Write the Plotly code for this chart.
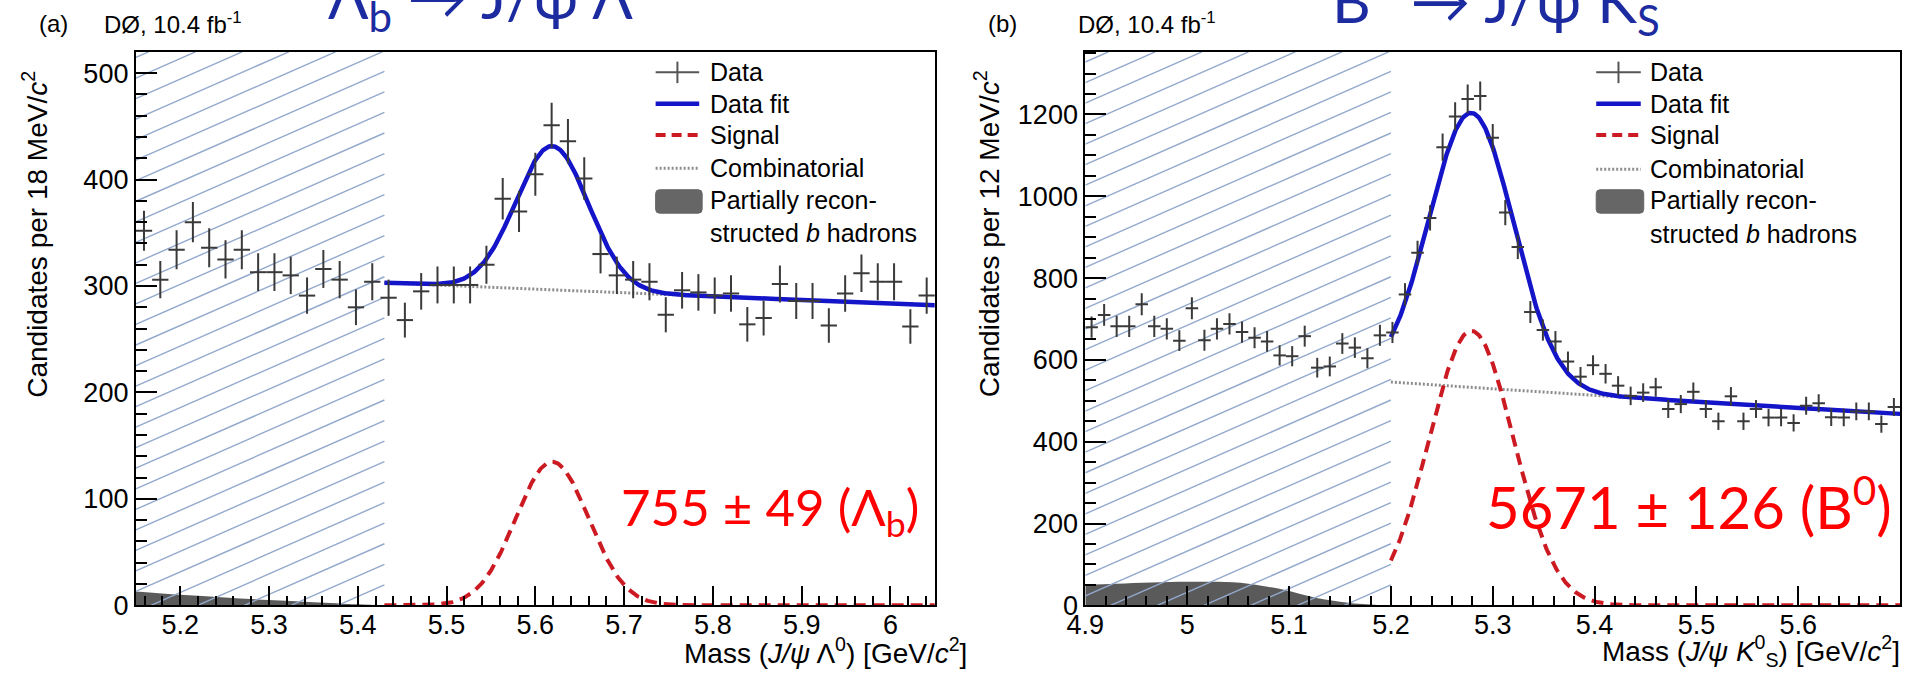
import numpy as np
import plotly.graph_objects as go

FIG_W, FIG_H = 1917, 681

# ---------------- panel (a): Lambda_b -> J/psi Lambda ----------------
mass_range_a = (5.15, 6.05)
counts_a = [352, 306, 334, 360, 336, 325, 334, 313, 313, 310,
            291, 316, 306, 280, 304, 289, 268, 295, 301, 301,
            301, 320, 382, 370, 405, 451, 436, 401, 330, 310,
            306, 304, 273, 296, 294, 291, 293, 264, 270, 302,
            286, 286, 263, 293, 312, 304, 304, 262, 291]
y_range_a = (0, 520)
fit_start_a = 5.43                 # lower edge of the fitted window
lb_yield, lb_yield_err = 755, 49
lb_mean, lb_sigma = 5.619, 0.041
comb_a_at_start, comb_a_decay = 303.0, 0.116
partial_a_x = [5.15, 5.20, 5.25, 5.30, 5.35, 5.40, 5.43]
partial_a_y = [13, 10, 7.5, 5, 3, 1, 0]
xtick_vals_a = [5.2, 5.3, 5.4, 5.5, 5.6, 5.7, 5.8, 5.9, 6.0]
xtick_text_a = ["5.2", "5.3", "5.4", "5.5", "5.6", "5.7", "5.8", "5.9", "6"]
ytick_vals_a = [0, 100, 200, 300, 400, 500]

# ---------------- panel (b): B0 -> J/psi K0S ----------------
mass_range_b = (4.9, 5.7)
counts_b = [680, 710, 682, 682, 736, 682, 676, 647, 726, 648,
            676, 688, 668, 654, 645, 611, 609, 658, 581, 584,
            640, 630, 604, 660, 667, 760, 862, 947, 1120, 1195,
            1238, 1245, 1143, 960, 876, 717, 673, 645, 596, 559,
            587, 566, 537, 512, 520, 533, 480, 492, 522, 480,
            450, 511, 450, 480, 459, 459, 446, 488, 494, 460,
            459, 474, 474, 443, 485]
y_range_b = (0, 1353)
fit_start_b = 5.2
b0_yield, b0_yield_err = 5671, 126
b0_mean, b0_sigma = 5.279, 0.0415
comb_b_at_start, comb_b_decay = 546.0, 0.308
partial_b_x = [4.90, 4.93, 4.965, 5.00, 5.03, 5.06, 5.095, 5.127, 5.16, 5.19, 5.20]
partial_b_y = [50, 53, 56, 57.5, 57.5, 53, 38, 18, 6, 1, 0]
xtick_vals_b = [4.9, 5.0, 5.1, 5.2, 5.3, 5.4, 5.5, 5.6, 5.7]
xtick_text_b = ["4.9", "5", "5.1", "5.2", "5.3", "5.4", "5.5", "5.6", "5.7"]
ytick_vals_b = [0, 200, 400, 600, 800, 1000, 1200]

# ---------------- frame geometry (pixels) ----------------
FRAME_TOP, FRAME_BOTTOM = 53, 619
FRAME_A = (118, 925)
FRAME_B = (1077, 1900)
Y_DOMAIN = [(FIG_H - FRAME_BOTTOM) / FIG_H, (FIG_H - FRAME_TOP) / FIG_H]

DATA_COLOR = "#3a3a3a"
FIT_COLOR = "#1414c8"
SIG_COLOR = "#cc1a22"
COMB_COLOR = "#8c8c8c"
PART_COLOR = "#5a5a5a"
HATCH_COLOR = "#93a9cc"
TITLE_BLUE = "#1d2ba0"
AX_FONT = "Liberation Sans"
SLIDE_FONT = "Lato"
TICK_SIZE = 27


def px(x):
    return x / FIG_W


def py(y):
    return 1 - y / FIG_H


def gauss(x, n, mean, sigma, width):
    return n * width / (sigma * np.sqrt(2 * np.pi)) * np.exp(-0.5 * ((x - mean) / sigma) ** 2)


def hatch(x0, x1, xr, yr, frame, angle_deg=24, spacing_px=21):
    """Diagonal hatch lines filling x0..x1 over the full y range, in data units."""
    ppx = (frame[1] - frame[0]) / (xr[1] - xr[0])
    ppy = (FRAME_BOTTOM - FRAME_TOP) / (yr[1] - yr[0])
    u1 = (x1 - x0) * ppx
    v1 = (yr[1] - yr[0]) * ppy
    t = np.tan(np.radians(angle_deg))
    xs, ys = [], []
    c = -u1 * t
    while c < v1:
        ua = max(0.0, -c / t)
        ub = min(u1, (v1 - c) / t)
        if ub > ua:
            for u in (ua, ub):
                xs.append(x0 + u / ppx)
                ys.append(yr[0] + (u * t + c) / ppy)
            xs.append(None)
            ys.append(None)
        c += spacing_px
    return xs, ys


def add_panel(fig, xref, yref, xr, yr, counts, frame, fit_start,
              n_sig, mean, sigma, comb0, decay, part_x, part_y):
    nb = len(counts)
    width = (xr[1] - xr[0]) / nb
    centers = xr[0] + width * (np.arange(nb) + 0.5)
    counts = np.asarray(counts, dtype=float)

    # partially reconstructed b hadrons
    fig.add_trace(go.Scatter(x=part_x, y=part_y, mode="lines", line=dict(color=PART_COLOR, width=0, shape="spline"),
                             fill="tozeroy", fillcolor=PART_COLOR, xaxis=xref, yaxis=yref, hoverinfo="skip"))
    # excluded (hatched) region
    hx, hy = hatch(xr[0], fit_start, xr, yr, frame)
    fig.add_trace(go.Scatter(x=hx, y=hy, mode="lines", line=dict(color=HATCH_COLOR, width=1.4),
                             xaxis=xref, yaxis=yref, hoverinfo="skip"))

    xf = np.linspace(fit_start, xr[1], 500)
    comb = comb0 * np.exp(-decay * (xf - fit_start))
    sig = gauss(xf, n_sig, mean, sigma, width)
    fig.add_trace(go.Scatter(x=xf, y=comb, mode="lines", line=dict(color=COMB_COLOR, width=3, dash="2px,2px"),
                             xaxis=xref, yaxis=yref))
    fig.add_trace(go.Scatter(x=xf, y=sig, mode="lines", line=dict(color=SIG_COLOR, width=4, dash="12px,7px"),
                             xaxis=xref, yaxis=yref))
    fig.add_trace(go.Scatter(x=xf, y=sig + comb, mode="lines", line=dict(color=FIT_COLOR, width=4.5),
                             xaxis=xref, yaxis=yref))
    # data with Poisson errors
    fig.add_trace(go.Scatter(x=centers, y=counts, mode="markers",
                             marker=dict(size=2, color=DATA_COLOR),
                             error_y=dict(type="data", array=np.sqrt(counts), width=0, thickness=2, color=DATA_COLOR),
                             error_x=dict(type="constant", value=width / 2, width=0, thickness=2, color=DATA_COLOR),
                             xaxis=xref, yaxis=yref))


fig = go.Figure()
add_panel(fig, "x", "y", mass_range_a, y_range_a, counts_a, FRAME_A, fit_start_a,
          lb_yield, lb_mean, lb_sigma, comb_a_at_start, comb_a_decay, partial_a_x, partial_a_y)
add_panel(fig, "x2", "y2", mass_range_b, y_range_b, counts_b, FRAME_B, fit_start_b,
          b0_yield, b0_mean, b0_sigma, comb_b_at_start, comb_b_decay, partial_b_x, partial_b_y)


def xaxis(rng, frame, vals, text, anchor):
    return dict(range=[rng[0] - 1e-6, rng[1] + 1e-6], domain=[px(frame[0]), px(frame[1])], anchor=anchor,
                tickmode="array", tickvals=vals, ticktext=text,
                ticks="inside", ticklen=19, tickwidth=2, tickcolor="black",
                minor=dict(tickmode="linear", tick0=vals[0], dtick=0.02, ticks="inside",
                           ticklen=9, tickwidth=2, tickcolor="black"),
                showline=True, linecolor="black", linewidth=2, mirror=True,
                showgrid=False, zeroline=False, ticklabelstandoff=-6,
                tickfont=dict(family=AX_FONT, size=TICK_SIZE, color="black"))


def yaxis(rng, vals, minor_step, anchor):
    return dict(range=list(rng), domain=Y_DOMAIN, anchor=anchor,
                tickmode="array", tickvals=vals, ticktext=[str(v) for v in vals],
                ticks="inside", ticklen=21, tickwidth=2, tickcolor="black",
                minor=dict(tickmode="linear", tick0=0, dtick=minor_step, ticks="inside",
                           ticklen=11, tickwidth=2, tickcolor="black"),
                showline=True, linecolor="black", linewidth=2, mirror=True,
                showgrid=False, zeroline=False,
                tickfont=dict(family=AX_FONT, size=TICK_SIZE, color="black"))


fig.update_layout(
    width=FIG_W, height=FIG_H, margin=dict(l=0, r=0, t=0, b=0),
    paper_bgcolor="white", plot_bgcolor="white", showlegend=False,
    xaxis=xaxis(mass_range_a, FRAME_A, xtick_vals_a, xtick_text_a, "y"),
    yaxis=yaxis(y_range_a, ytick_vals_a, 20, "x"),
    xaxis2=xaxis(mass_range_b, FRAME_B, xtick_vals_b, xtick_text_b, "y2"),
    yaxis2=yaxis(y_range_b, ytick_vals_b, 50, "x2"),
)

annotations = []
shapes = []


def label(text, x, y, size=25, family=AX_FONT, color="black", xanchor="left", yanchor="middle", angle=0):
    annotations.append(dict(text=text, x=px(x), y=py(y), xref="paper", yref="paper",
                            xanchor=xanchor, yanchor=yanchor, showarrow=False, textangle=angle,
                            font=dict(family=family, size=size, color=color)))


def seg(x0, y0, x1, y1, color, width, dash="solid"):
    shapes.append(dict(type="line", xref="paper", yref="paper", x0=px(x0), y0=py(y0), x1=px(x1), y1=py(y1),
                       line=dict(color=color, width=width, dash=dash)))


def legend(sx0, sx1, tx, rows):
    xmid = (sx0 + sx1) / 2
    seg(sx0, rows[0], sx1, rows[0], "#555555", 2)
    seg(xmid, rows[0] - 11, xmid, rows[0] + 11, "#555555", 2)
    label("Data", tx, rows[0])
    seg(sx0, rows[1], sx1, rows[1], FIT_COLOR, 4.5)
    label("Data fit", tx, rows[1])
    seg(sx0, rows[2], sx1, rows[2], SIG_COLOR, 4, "10px,6px")
    label("Signal", tx, rows[2])
    seg(sx0, rows[3], sx1, rows[3], COMB_COLOR, 3, "2px,2px")
    label("Combinatorial", tx, rows[3])
    r = 4
    x0, x1, y0, y1 = sx0, sx1 + 3, rows[4] - 11, rows[4] + 13
    path = (f"M {px(x0 + r)},{py(y0)} L {px(x1 - r)},{py(y0)} Q {px(x1)},{py(y0)} {px(x1)},{py(y0 + r)} "
            f"L {px(x1)},{py(y1 - r)} Q {px(x1)},{py(y1)} {px(x1 - r)},{py(y1)} "
            f"L {px(x0 + r)},{py(y1)} Q {px(x0)},{py(y1)} {px(x0)},{py(y1 - r)} "
            f"L {px(x0)},{py(y0 + r)} Q {px(x0)},{py(y0)} {px(x0 + r)},{py(y0)} Z")
    shapes.append(dict(type="path", xref="paper", yref="paper", path=path, fillcolor="#666666",
                       line=dict(color="#666666", width=1)))
    label("Partially recon-", tx, rows[4])
    label("structed <i>b</i> hadrons", tx, rows[5])


legend(643, 687, 696, [74, 106, 138, 172, 205, 238])
legend(1593, 1638, 1645, [74, 106, 138, 173, 205, 239])

# panel headers
label("(a)", 18, 24, size=24)
label("DØ, 10.4 fb<sup>-1</sup>", 84, 24, size=24)
label("(b)", 977, 24, size=24)
label("DØ, 10.4 fb<sup>-1</sup>", 1068, 24, size=24)

# decay channel titles (running off the top of the page)
label("Λ<sub>b</sub> → J/ψ Λ", 466, 1, size=60, family=SLIDE_FONT, color=TITLE_BLUE, xanchor="center")
label("B<sup>0</sup> → J/ψ K<sub>S</sub>", 1492, 1, size=60, family=SLIDE_FONT, color=TITLE_BLUE,
      xanchor="center")
label("0", 1631, -22, size=42, family=SLIDE_FONT, color=TITLE_BLUE, xanchor="right")

# axis titles
label("Candidates per 18 MeV/<i>c</i><sup>2</sup>", 16, 70, size=28, xanchor="center", yanchor="top", angle=-90)
label("Candidates per 12 MeV/<i>c</i><sup>2</sup>", 978, 70, size=28, xanchor="center", yanchor="top", angle=-90)
label("Mass (<i>J/ψ</i> Λ<sup>0</sup>) [GeV/<i>c</i><sup>2</sup>]", 960, 666, size=28, xanchor="right")
label("Mass (<i>J/ψ K</i><sup>0</sup><sub>S</sub>) [GeV/<i>c</i><sup>2</sup>]", 1902, 666, size=28,
      xanchor="right")

# fitted signal yields
label(f"{lb_yield} ± {lb_yield_err} (Λ<sub>b</sub>)", 911, 522, size=51, family=SLIDE_FONT, color="#ff0000",
      xanchor="right")
label(f"{b0_yield} ± {b0_yield_err} (B<sup>0</sup>)", 1894, 514, size=58, family=SLIDE_FONT, color="#ff0000",
      xanchor="right")

fig.update_layout(annotations=annotations, shapes=shapes)
fig.write_html("out.html")
